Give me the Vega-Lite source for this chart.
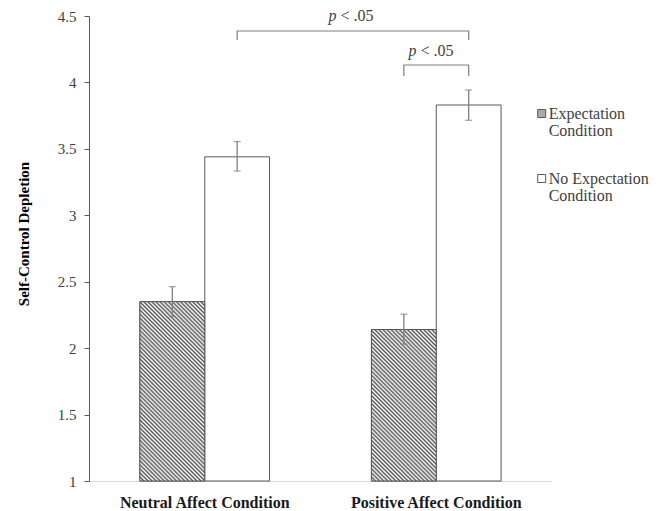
{
  "$schema": "https://vega.github.io/schema/vega-lite/v6.json",
  "autosize": {"type": "none"},
  "padding": {"left": 89, "top": 16, "right": 112, "bottom": 30},
  "width": 463,
  "height": 465,
  "background": "white",
  "config": {
    "font": "Liberation Serif",
    "view": {"stroke": null},
    "axis": {"labelFont": "Liberation Serif", "titleFont": "Liberation Serif"},
    "legend": {"labelFont": "Liberation Serif"},
    "text": {"font": "Liberation Serif"},
    "style": {"guide-label": {"lineHeight": 17}}
  },
  "data": {
    "values": [
      {"group": "Neutral Affect Condition", "cond": "Expectation Condition", "mean": 2.35, "lo": 2.237, "hi": 2.463},
      {"group": "Neutral Affect Condition", "cond": "No Expectation Condition", "mean": 3.44, "lo": 3.333, "hi": 3.555},
      {"group": "Positive Affect Condition", "cond": "Expectation Condition", "mean": 2.14, "lo": 2.03, "hi": 2.255},
      {"group": "Positive Affect Condition", "cond": "No Expectation Condition", "mean": 3.83, "lo": 3.715, "hi": 3.943}
    ]
  },
  "encoding": {
    "x": {
      "field": "group", "type": "nominal",
      "scale": {"paddingInner": 0.44, "paddingOuter": 0.22},
      "axis": {"title": null, "ticks": false, "tickSize": 0, "labelAngle": 0, "labelPadding": 13, "labelFontSize": 16, "labelFontWeight": "bold", "labelColor": "#1a1a1a", "domainColor": "#d9d9d9", "domainWidth": 1.2, "labelLimit": 300}
    },
    "xOffset": {"field": "cond", "type": "nominal", "scale": {"paddingInner": 0, "paddingOuter": 0}},
    "y": {
      "field": "mean", "type": "quantitative",
      "scale": {"domain": [1, 4.5], "nice": false, "zero": false},
      "axis": {"title": "Self-Control Depletion", "values": [1, 1.5, 2, 2.5, 3, 3.5, 4, 4.5], "format": "~g", "grid": false, "tickSize": 5, "tickColor": "#595959", "domainColor": "#595959", "labelPadding": 8, "labelFontSize": 15, "labelColor": "#404040", "titleFontSize": 15, "titleFontWeight": "bold", "titleColor": "#000000", "titlePadding": 26, "titleY": 217.5}
    }
  },
  "layer": [
    {
      "mark": {"type": "bar", "stroke": "#595959", "strokeWidth": 1},
      "encoding": {
        "y2": {"datum": 1},
        "fill": {
          "field": "cond", "type": "nominal",
          "scale": {"range": ["#aaaaaa", "#ffffff"]},
          "legend": {"title": null, "orient": "none", "legendX": 444.7, "legendY": 89.5, "padding": 0, "symbolType": "square", "symbolSize": 64, "symbolStrokeColor": "#595959", "symbolStrokeWidth": 1, "labelOffset": -1, "labelFontSize": 16, "labelColor": "#404040", "labelLimit": 300, "rowPadding": 32, "labelBaseline": "middle",
            "labelExpr": "datum.label == 'Expectation Condition' ? ['Expectation', 'Condition'] : ['No Expectation', 'Condition']"}
        }
      }
    },
    {
      "transform": [{"filter": "datum.group == 'Neutral Affect Condition' && datum.cond == 'Expectation Condition'"}],
      "mark": {"type": "bar", "stroke": "#595959", "strokeWidth": 1,
        "fill": {"gradient": "linear", "x1": 0, "y1": 1, "x2": 0.4352, "y2": -0.2042, "stops": [
{"offset":0,"color":"#555"},{"offset":0.00833,"color":"#fff"},{"offset":0.01667,"color":"#555"},{"offset":0.025,"color":"#fff"},{"offset":0.03333,"color":"#555"},{"offset":0.04167,"color":"#fff"},{"offset":0.05,"color":"#555"},{"offset":0.05833,"color":"#fff"},{"offset":0.06667,"color":"#555"},{"offset":0.075,"color":"#fff"},{"offset":0.08333,"color":"#555"},{"offset":0.09167,"color":"#fff"},
{"offset":0.1,"color":"#555"},{"offset":0.10833,"color":"#fff"},{"offset":0.11667,"color":"#555"},{"offset":0.125,"color":"#fff"},{"offset":0.13333,"color":"#555"},{"offset":0.14167,"color":"#fff"},{"offset":0.15,"color":"#555"},{"offset":0.15833,"color":"#fff"},{"offset":0.16667,"color":"#555"},{"offset":0.175,"color":"#fff"},{"offset":0.18333,"color":"#555"},{"offset":0.19167,"color":"#fff"},
{"offset":0.2,"color":"#555"},{"offset":0.20833,"color":"#fff"},{"offset":0.21667,"color":"#555"},{"offset":0.225,"color":"#fff"},{"offset":0.23333,"color":"#555"},{"offset":0.24167,"color":"#fff"},{"offset":0.25,"color":"#555"},{"offset":0.25833,"color":"#fff"},{"offset":0.26667,"color":"#555"},{"offset":0.275,"color":"#fff"},{"offset":0.28333,"color":"#555"},{"offset":0.29167,"color":"#fff"},
{"offset":0.3,"color":"#555"},{"offset":0.30833,"color":"#fff"},{"offset":0.31667,"color":"#555"},{"offset":0.325,"color":"#fff"},{"offset":0.33333,"color":"#555"},{"offset":0.34167,"color":"#fff"},{"offset":0.35,"color":"#555"},{"offset":0.35833,"color":"#fff"},{"offset":0.36667,"color":"#555"},{"offset":0.375,"color":"#fff"},{"offset":0.38333,"color":"#555"},{"offset":0.39167,"color":"#fff"},
{"offset":0.4,"color":"#555"},{"offset":0.40833,"color":"#fff"},{"offset":0.41667,"color":"#555"},{"offset":0.425,"color":"#fff"},{"offset":0.43333,"color":"#555"},{"offset":0.44167,"color":"#fff"},{"offset":0.45,"color":"#555"},{"offset":0.45833,"color":"#fff"},{"offset":0.46667,"color":"#555"},{"offset":0.475,"color":"#fff"},{"offset":0.48333,"color":"#555"},{"offset":0.49167,"color":"#fff"},
{"offset":0.5,"color":"#555"},{"offset":0.50833,"color":"#fff"},{"offset":0.51667,"color":"#555"},{"offset":0.525,"color":"#fff"},{"offset":0.53333,"color":"#555"},{"offset":0.54167,"color":"#fff"},{"offset":0.55,"color":"#555"},{"offset":0.55833,"color":"#fff"},{"offset":0.56667,"color":"#555"},{"offset":0.575,"color":"#fff"},{"offset":0.58333,"color":"#555"},{"offset":0.59167,"color":"#fff"},
{"offset":0.6,"color":"#555"},{"offset":0.60833,"color":"#fff"},{"offset":0.61667,"color":"#555"},{"offset":0.625,"color":"#fff"},{"offset":0.63333,"color":"#555"},{"offset":0.64167,"color":"#fff"},{"offset":0.65,"color":"#555"},{"offset":0.65833,"color":"#fff"},{"offset":0.66667,"color":"#555"},{"offset":0.675,"color":"#fff"},{"offset":0.68333,"color":"#555"},{"offset":0.69167,"color":"#fff"},
{"offset":0.7,"color":"#555"},{"offset":0.70833,"color":"#fff"},{"offset":0.71667,"color":"#555"},{"offset":0.725,"color":"#fff"},{"offset":0.73333,"color":"#555"},{"offset":0.74167,"color":"#fff"},{"offset":0.75,"color":"#555"},{"offset":0.75833,"color":"#fff"},{"offset":0.76667,"color":"#555"},{"offset":0.775,"color":"#fff"},{"offset":0.78333,"color":"#555"},{"offset":0.79167,"color":"#fff"},
{"offset":0.8,"color":"#555"},{"offset":0.80833,"color":"#fff"},{"offset":0.81667,"color":"#555"},{"offset":0.825,"color":"#fff"},{"offset":0.83333,"color":"#555"},{"offset":0.84167,"color":"#fff"},{"offset":0.85,"color":"#555"},{"offset":0.85833,"color":"#fff"},{"offset":0.86667,"color":"#555"},{"offset":0.875,"color":"#fff"},{"offset":0.88333,"color":"#555"},{"offset":0.89167,"color":"#fff"},
{"offset":0.9,"color":"#555"},{"offset":0.90833,"color":"#fff"},{"offset":0.91667,"color":"#555"},{"offset":0.925,"color":"#fff"},{"offset":0.93333,"color":"#555"},{"offset":0.94167,"color":"#fff"},{"offset":0.95,"color":"#555"},{"offset":0.95833,"color":"#fff"},{"offset":0.96667,"color":"#555"},{"offset":0.975,"color":"#fff"},{"offset":0.98333,"color":"#555"},{"offset":0.99167,"color":"#fff"},
{"offset":1,"color":"#555"}
        ]}
      },
      "encoding": {"y2": {"datum": 1}}
    },
    {
      "transform": [{"filter": "datum.group == 'Positive Affect Condition' && datum.cond == 'Expectation Condition'"}],
      "mark": {"type": "bar", "stroke": "#595959", "strokeWidth": 1,
        "fill": {"gradient": "linear", "x1": 0, "y1": 1, "x2": 0.58365, "y2": -0.36375, "stops": [
{"offset":0,"color":"#555"},{"offset":0.00833,"color":"#fff"},{"offset":0.01667,"color":"#555"},{"offset":0.025,"color":"#fff"},{"offset":0.03333,"color":"#555"},{"offset":0.04167,"color":"#fff"},{"offset":0.05,"color":"#555"},{"offset":0.05833,"color":"#fff"},{"offset":0.06667,"color":"#555"},{"offset":0.075,"color":"#fff"},{"offset":0.08333,"color":"#555"},{"offset":0.09167,"color":"#fff"},
{"offset":0.1,"color":"#555"},{"offset":0.10833,"color":"#fff"},{"offset":0.11667,"color":"#555"},{"offset":0.125,"color":"#fff"},{"offset":0.13333,"color":"#555"},{"offset":0.14167,"color":"#fff"},{"offset":0.15,"color":"#555"},{"offset":0.15833,"color":"#fff"},{"offset":0.16667,"color":"#555"},{"offset":0.175,"color":"#fff"},{"offset":0.18333,"color":"#555"},{"offset":0.19167,"color":"#fff"},
{"offset":0.2,"color":"#555"},{"offset":0.20833,"color":"#fff"},{"offset":0.21667,"color":"#555"},{"offset":0.225,"color":"#fff"},{"offset":0.23333,"color":"#555"},{"offset":0.24167,"color":"#fff"},{"offset":0.25,"color":"#555"},{"offset":0.25833,"color":"#fff"},{"offset":0.26667,"color":"#555"},{"offset":0.275,"color":"#fff"},{"offset":0.28333,"color":"#555"},{"offset":0.29167,"color":"#fff"},
{"offset":0.3,"color":"#555"},{"offset":0.30833,"color":"#fff"},{"offset":0.31667,"color":"#555"},{"offset":0.325,"color":"#fff"},{"offset":0.33333,"color":"#555"},{"offset":0.34167,"color":"#fff"},{"offset":0.35,"color":"#555"},{"offset":0.35833,"color":"#fff"},{"offset":0.36667,"color":"#555"},{"offset":0.375,"color":"#fff"},{"offset":0.38333,"color":"#555"},{"offset":0.39167,"color":"#fff"},
{"offset":0.4,"color":"#555"},{"offset":0.40833,"color":"#fff"},{"offset":0.41667,"color":"#555"},{"offset":0.425,"color":"#fff"},{"offset":0.43333,"color":"#555"},{"offset":0.44167,"color":"#fff"},{"offset":0.45,"color":"#555"},{"offset":0.45833,"color":"#fff"},{"offset":0.46667,"color":"#555"},{"offset":0.475,"color":"#fff"},{"offset":0.48333,"color":"#555"},{"offset":0.49167,"color":"#fff"},
{"offset":0.5,"color":"#555"},{"offset":0.50833,"color":"#fff"},{"offset":0.51667,"color":"#555"},{"offset":0.525,"color":"#fff"},{"offset":0.53333,"color":"#555"},{"offset":0.54167,"color":"#fff"},{"offset":0.55,"color":"#555"},{"offset":0.55833,"color":"#fff"},{"offset":0.56667,"color":"#555"},{"offset":0.575,"color":"#fff"},{"offset":0.58333,"color":"#555"},{"offset":0.59167,"color":"#fff"},
{"offset":0.6,"color":"#555"},{"offset":0.60833,"color":"#fff"},{"offset":0.61667,"color":"#555"},{"offset":0.625,"color":"#fff"},{"offset":0.63333,"color":"#555"},{"offset":0.64167,"color":"#fff"},{"offset":0.65,"color":"#555"},{"offset":0.65833,"color":"#fff"},{"offset":0.66667,"color":"#555"},{"offset":0.675,"color":"#fff"},{"offset":0.68333,"color":"#555"},{"offset":0.69167,"color":"#fff"},
{"offset":0.7,"color":"#555"},{"offset":0.70833,"color":"#fff"},{"offset":0.71667,"color":"#555"},{"offset":0.725,"color":"#fff"},{"offset":0.73333,"color":"#555"},{"offset":0.74167,"color":"#fff"},{"offset":0.75,"color":"#555"},{"offset":0.75833,"color":"#fff"},{"offset":0.76667,"color":"#555"},{"offset":0.775,"color":"#fff"},{"offset":0.78333,"color":"#555"},{"offset":0.79167,"color":"#fff"},
{"offset":0.8,"color":"#555"},{"offset":0.80833,"color":"#fff"},{"offset":0.81667,"color":"#555"},{"offset":0.825,"color":"#fff"},{"offset":0.83333,"color":"#555"},{"offset":0.84167,"color":"#fff"},{"offset":0.85,"color":"#555"},{"offset":0.85833,"color":"#fff"},{"offset":0.86667,"color":"#555"},{"offset":0.875,"color":"#fff"},{"offset":0.88333,"color":"#555"},{"offset":0.89167,"color":"#fff"},
{"offset":0.9,"color":"#555"},{"offset":0.90833,"color":"#fff"},{"offset":0.91667,"color":"#555"},{"offset":0.925,"color":"#fff"},{"offset":0.93333,"color":"#555"},{"offset":0.94167,"color":"#fff"},{"offset":0.95,"color":"#555"},{"offset":0.95833,"color":"#fff"},{"offset":0.96667,"color":"#555"},{"offset":0.975,"color":"#fff"},{"offset":0.98333,"color":"#555"},{"offset":0.99167,"color":"#fff"},
{"offset":1,"color":"#555"}
        ]}
      },
      "encoding": {"y2": {"datum": 1}}
    },
    {
      "mark": {"type": "rule", "stroke": "#808080", "strokeWidth": 1.3},
      "encoding": {"y": {"field": "lo", "type": "quantitative"}, "y2": {"field": "hi"}}
    },
    {
      "mark": {"type": "tick", "color": "#808080", "thickness": 1.3, "size": 7, "orient": "horizontal"},
      "encoding": {"y": {"field": "lo", "type": "quantitative"}}
    },
    {
      "mark": {"type": "tick", "color": "#808080", "thickness": 1.3, "size": 7, "orient": "horizontal"},
      "encoding": {"y": {"field": "hi", "type": "quantitative"}}
    },
    {
      "data": {"values": [
        {"b": "top", "group": "Neutral Affect Condition", "cond": "No Expectation Condition", "v": 4.319, "ord": 1},
        {"b": "top", "group": "Neutral Affect Condition", "cond": "No Expectation Condition", "v": 4.387, "ord": 2},
        {"b": "top", "group": "Positive Affect Condition", "cond": "No Expectation Condition", "v": 4.387, "ord": 3},
        {"b": "top", "group": "Positive Affect Condition", "cond": "No Expectation Condition", "v": 4.319, "ord": 4},
        {"b": "small", "group": "Positive Affect Condition", "cond": "Expectation Condition", "v": 4.049, "ord": 1},
        {"b": "small", "group": "Positive Affect Condition", "cond": "Expectation Condition", "v": 4.131, "ord": 2},
        {"b": "small", "group": "Positive Affect Condition", "cond": "No Expectation Condition", "v": 4.131, "ord": 3},
        {"b": "small", "group": "Positive Affect Condition", "cond": "No Expectation Condition", "v": 4.049, "ord": 4}
      ]},
      "mark": {"type": "line", "stroke": "#7f7f7f", "strokeWidth": 1.2, "strokeJoin": "round"},
      "encoding": {
        "y": {"field": "v", "type": "quantitative"},
        "detail": {"field": "b"},
        "order": {"field": "ord", "type": "quantitative"}
      }
    },
    {
      "data": {"values": [{"group": "Neutral Affect Condition", "cond": "No Expectation Condition", "v": 4.462, "t": "p"}]},
      "mark": {"type": "text", "font": "Liberation Serif", "align": "right", "baseline": "alphabetic", "dx": 99.3, "fontSize": 16, "fontStyle": "italic", "color": "#404040"},
      "encoding": {"y": {"field": "v", "type": "quantitative"}, "text": {"field": "t"}}
    },
    {
      "data": {"values": [{"group": "Neutral Affect Condition", "cond": "No Expectation Condition", "v": 4.462, "t": "< .05"}]},
      "mark": {"type": "text", "font": "Liberation Serif", "align": "left", "baseline": "alphabetic", "dx": 103.3, "fontSize": 16, "color": "#404040"},
      "encoding": {"y": {"field": "v", "type": "quantitative"}, "text": {"field": "t"}}
    },
    {
      "data": {"values": [{"group": "Positive Affect Condition", "v": 4.199, "t": "p"}]},
      "mark": {"type": "text", "font": "Liberation Serif", "align": "right", "baseline": "alphabetic", "dx": -19.75, "fontSize": 16, "fontStyle": "italic", "color": "#404040"},
      "encoding": {"xOffset": null, "y": {"field": "v", "type": "quantitative"}, "text": {"field": "t"}}
    },
    {
      "data": {"values": [{"group": "Positive Affect Condition", "v": 4.199, "t": "< .05"}]},
      "mark": {"type": "text", "font": "Liberation Serif", "align": "left", "baseline": "alphabetic", "dx": -15.75, "fontSize": 16, "color": "#404040"},
      "encoding": {"xOffset": null, "y": {"field": "v", "type": "quantitative"}, "text": {"field": "t"}}
    }
  ]
}
